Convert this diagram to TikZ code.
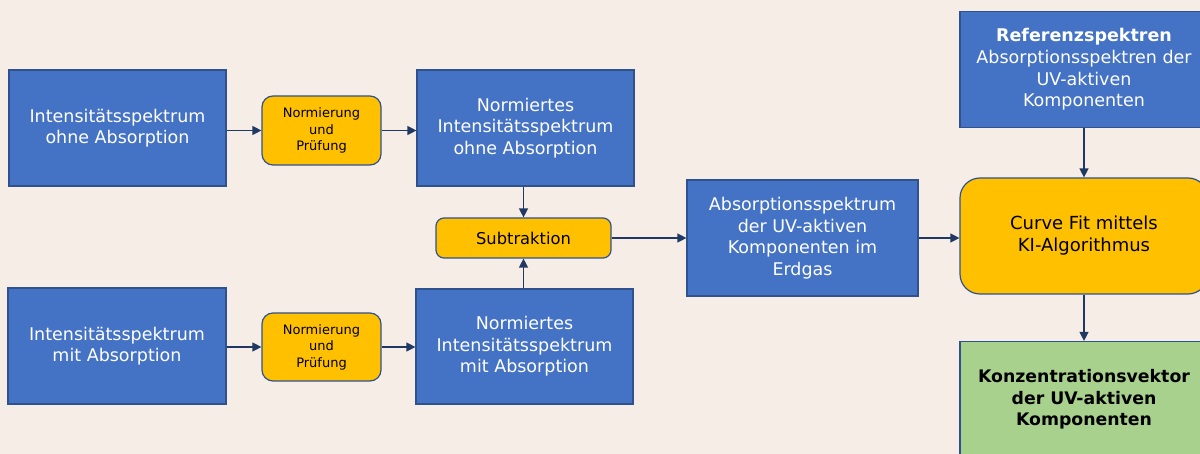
\documentclass[tikz,border=0pt]{standalone}
\usepackage{fontspec}
\setmainfont{DejaVu Sans}
\usetikzlibrary{arrows.meta}
\definecolor{hinter}{RGB}{246,237,231}
\definecolor{blau}{RGB}{68,114,196}
\definecolor{rand}{RGB}{47,82,143}
\definecolor{gelb}{RGB}{255,192,0}
\definecolor{gruen}{RGB}{169,209,142}
\definecolor{pfeil}{RGB}{31,56,100}
\begin{document}
\begin{tikzpicture}[x=1pt,y=-1pt,
  box/.style={draw=rand,line width=1.2pt,fill=blau,text=white,align=center,
    inner sep=0pt,font=\fontsize{17.5}{21.6}\selectfont},
  op/.style={box,fill=gelb,text=black},
  arr/.style={draw=pfeil,line width=1.3pt,-{Triangle[length=9pt,width=9pt]}}]
\path[use as bounding box,clip] (0,0) rectangle (1200,454);
\fill[hinter] (0,0) rectangle (1200,454);
\node[box,minimum width=217pt,minimum height=116pt] (inA) at (117.5,128)
  {Intensitätsspektrum\\ohne Absorption};
\node[op,rounded corners=11pt,minimum width=119pt,minimum height=69pt,
  font=\fontsize{13}{16.5}\selectfont] (normA) at (321.5,130.5) {Normierung\\und\\Prüfung};
\node[box,minimum width=217pt,minimum height=116pt] (ninA) at (525.5,128)
  {Normiertes\\Intensitätsspektrum\\ohne Absorption};
\node[box,minimum width=218pt,minimum height=116pt] (inB) at (117,346)
  {Intensitätsspektrum\\mit Absorption};
\node[op,rounded corners=11pt,minimum width=119pt,minimum height=68pt,
  font=\fontsize{13}{16.5}\selectfont] (normB) at (321.5,347) {Normierung\\und\\Prüfung};
\node[box,minimum width=217pt,minimum height=115pt] (ninB) at (524.5,346.5)
  {Normiertes\\Intensitätsspektrum\\mit Absorption};
\node[op,rounded corners=8pt,minimum width=175pt,minimum height=40pt,
  font=\fontsize{16.3}{20}\selectfont] (sub) at (523.5,238) {Subtraktion};
\node[box,minimum width=231pt,minimum height=116pt] (abs) at (802.5,238)
  {Absorptionsspektrum\\der UV-aktiven\\Komponenten im\\Erdgas};
\node[box,minimum width=248pt,minimum height=116pt] (ref) at (1084,69.5)
  {\textbf{Referenzspektren}\\Absorptionsspektren der\\UV-aktiven\\Komponenten};
\node[op,rounded corners=20pt,minimum width=248pt,minimum height=116pt,
  font=\fontsize{18}{22}\selectfont] (fit) at (1084,236)
  {Curve Fit mittels\\KI-Algorithmus};
\node[op,fill=gruen,minimum width=248pt,minimum height=116pt,
  font=\fontsize{17.3}{21.5}\selectfont\bfseries] (res) at (1084,399.5)
  {Konzentrationsvektor\\der UV-aktiven\\Komponenten};
\draw[arr] (inA.east |- normA.west) -- (normA.west);
\draw[arr] (normA.east) -- (normA.east -| ninA.west);
\draw[arr] (inB.east |- normB.west) -- (normB.west);
\draw[arr] (normB.east) -- (normB.east -| ninB.west);
\draw[arr] (ninA.south -| sub.north) -- (sub.north);
\draw[arr] (ninB.north -| sub.south) -- (sub.south);
\draw[arr] (sub.east) -- (sub.east -| abs.west);
\draw[arr] (abs.east) -- (abs.east -| fit.west);
\draw[arr] (ref.south) -- (fit.north);
\draw[arr] (fit.south) -- (res.north);
\end{tikzpicture}
\end{document}
